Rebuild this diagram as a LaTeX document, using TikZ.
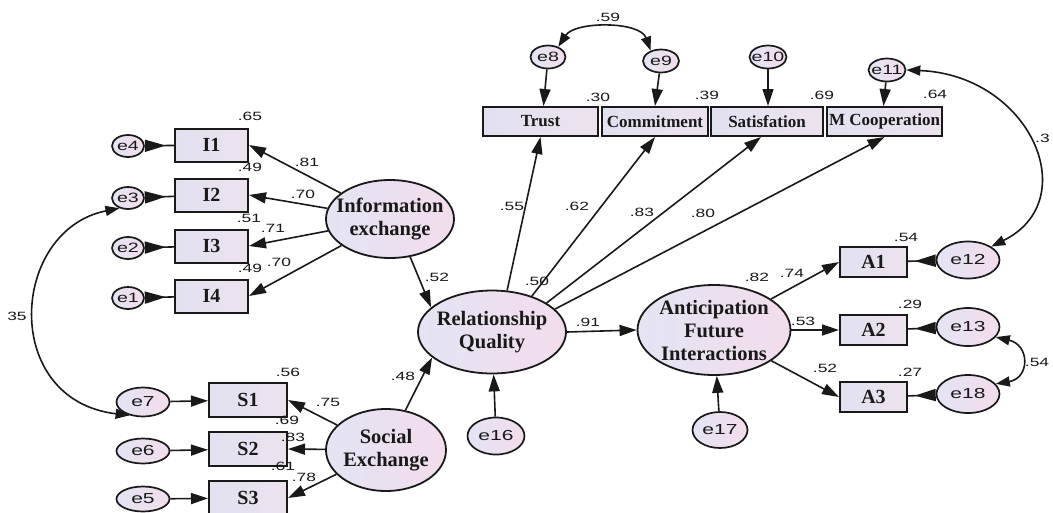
\documentclass[tikz,border=0pt]{standalone}
\usepackage{fontspec}
\setmainfont{Liberation Serif}
\newfontfamily\numfam{Liberation Sans}[FakeStretch=1.45]
\usetikzlibrary{arrows.meta,shapes.geometric,calc}
\definecolor{boxL}{RGB}{226,225,240}
\definecolor{boxR}{RGB}{236,226,238}
\definecolor{ellL}{RGB}{228,228,243}
\definecolor{ellR}{RGB}{242,220,236}
\definecolor{ink}{RGB}{25,25,25}
\begin{document}
\begin{tikzpicture}[x=1pt,y=-1pt,
 box/.style={rectangle, draw=ink, line width=2pt, left color=boxL, right color=boxR, inner sep=0pt, font=\bfseries\fontsize{20}{22}\selectfont, text=ink},
 tbox/.style={box, minimum height=29pt, font=\bfseries\fontsize{17}{18}\selectfont},
 lat/.style={ellipse, draw=ink, line width=1.8pt, left color=ellL, right color=ellR, inner sep=0pt},
 lattext/.style={font=\bfseries\fontsize{20.5}{23}\selectfont, align=center, text=ink, inner sep=0pt},
 err/.style={ellipse, draw=ink, line width=1.7pt, left color=ellL, right color=ellR, inner sep=0pt},
 etext/.style={font=\numfam\fontsize{14.5}{14}\selectfont, text=ink, inner sep=0pt},
 setext/.style={font=\numfam\fontsize{13.5}{13}\selectfont, text=ink, inner sep=0pt},
 nlab/.style={font=\numfam\fontsize{12}{12}\selectfont, text=ink, inner sep=0pt},
 arr/.style={draw=ink, line width=1.6pt, -{Triangle[length=17pt,width=11pt]}},
 earr/.style={draw=ink, line width=1.6pt, {Triangle[reversed,length=21pt,width=12pt]}-},
 cov/.style={draw=ink, line width=1.6pt, {Triangle[length=14pt,width=10pt]}-{Triangle[length=14pt,width=10pt]}},
]
\useasboundingbox (0,0) rectangle (1053,512);
\clip (0,0) rectangle (1053,512);
\fill[white] (0,0) rectangle (1053,512);

% latent variables
\node[lat, minimum width=128pt, minimum height=78pt, label={[lattext]center:Information\\exchange}] (IE) at (390,219) {};
\node[lat, minimum width=120pt, minimum height=82pt, label={[lattext]center:Social\\Exchange}] (SE) at (386,450) {};
\node[lat, minimum width=148pt, minimum height=83pt, label={[lattext]center:Relationship\\Quality}] (RQ) at (492,332) {};
\node[lat, minimum width=153pt, minimum height=90pt, label={[lattext]center:Anticipation\\Future\\Interactions}] (AFI) at (714,330) {};

% indicators
\node[box, minimum width=73pt, minimum height=33pt] (I1) at (211.5,145) {I1};
\node[box, minimum width=73pt, minimum height=33pt] (I2) at (211.5,195) {I2};
\node[box, minimum width=73pt, minimum height=33pt] (I3) at (211.5,246) {I3};
\node[box, minimum width=73pt, minimum height=33pt] (I4) at (211.5,296) {I4};
\node[box, minimum width=78pt, minimum height=34pt] (S1) at (248,400) {S1};
\node[box, minimum width=78pt, minimum height=34pt] (S2) at (248,449) {S2};
\node[box, minimum width=78pt, minimum height=34pt] (S3) at (248,498) {S3};
\node[box, minimum width=67pt, minimum height=30pt] (A1) at (873.5,262) {A1};
\node[box, minimum width=67pt, minimum height=30pt] (A2) at (873.5,330) {A2};
\node[box, minimum width=67pt, minimum height=30pt] (A3) at (873.5,397) {A3};
\node[tbox, minimum width=115pt] (Tr) at (540.5,121.5) {Trust};
\node[tbox, minimum width=106pt] (Co) at (655,121.5) {Commitment};
\node[tbox, minimum width=112pt] (Sa) at (767,121.5) {Satisfation};
\node[tbox, minimum width=115pt] (MC) at (884.5,121.5) {M Cooperation};

% errors
\node[err, minimum width=32pt, minimum height=22pt, label={[setext]center:e4}] (e4) at (128,146) {};
\node[err, minimum width=32pt, minimum height=22pt, label={[setext]center:e3}] (e3) at (128,198) {};
\node[err, minimum width=32pt, minimum height=22pt, label={[setext]center:e2}] (e2) at (128,248) {};
\node[err, minimum width=32pt, minimum height=22pt, label={[setext]center:e1}] (e1) at (128,298) {};
\node[err, minimum width=53pt, minimum height=29pt, label={[etext]center:e7}] (e7) at (143,402) {};
\node[err, minimum width=53pt, minimum height=25pt, label={[etext]center:e6}] (e6) at (143,451) {};
\node[err, minimum width=53pt, minimum height=25pt, label={[etext]center:e5}] (e5) at (143,499) {};
\node[err, minimum width=35pt, minimum height=23pt, label={[setext]center:e8}] (e8) at (548,57) {};
\node[err, minimum width=36pt, minimum height=23pt, label={[setext]center:e9}] (e9) at (661,61) {};
\node[err, minimum width=37pt, minimum height=23pt, label={[setext]center:e10}] (e10) at (768,57) {};
\node[err, minimum width=37pt, minimum height=23pt, label={[setext]center:e11}] (e11) at (887,70) {};
\node[err, minimum width=63pt, minimum height=37pt, label={[etext]center:e12}] (e12) at (968,260) {};
\node[err, minimum width=63pt, minimum height=38pt, label={[etext]center:e13}] (e13) at (968,327) {};
\node[err, minimum width=63pt, minimum height=38pt, label={[etext]center:e18}] (e18) at (968,394) {};
\node[err, minimum width=57pt, minimum height=37pt, label={[etext]center:e16}] (e16) at (496,436) {};
\node[err, minimum width=55pt, minimum height=36pt, label={[etext]center:e17}] (e17) at (720,430) {};

% structural paths
\draw[arr] (IE) -- (I1.east);
\draw[arr] (IE) -- (I2.east);
\draw[arr] (IE) -- (I3.east);
\draw[arr] (IE) -- (I4.east);
\draw[arr] (SE) -- (S1.east);
\draw[arr] (SE) -- (S2.east);
\draw[arr] (SE) -- (S3.east);
\draw[arr] (IE.-62) -- (RQ.158);
\draw[arr] (SE.64) -- (RQ.203);
\draw[arr] (RQ.70) -- (Tr.south);
\draw[arr] (RQ.42) -- (Co.south);
\draw[arr] (RQ.28) -- ($(Sa.south)+(-6,0)$);
\draw[arr] (RQ.20) -- (MC.south);
\draw[arr] (RQ.east) -- (AFI.west);
\draw[arr] (AFI) -- (A1.west);
\draw[arr] (AFI) -- (A2.west);
\draw[arr] (AFI) -- (A3.west);
\draw[arr] (e16) -- (RQ);
\draw[arr] (e17) -- (AFI);

% error paths
\draw[earr] (e4) -- (I1);
\draw[earr] (e3) -- (I2);
\draw[earr] (e2) -- (I3);
\draw[earr] (e1) -- (I4);
\draw[earr] (e12) -- (A1);
\draw[earr] (e13) -- (A2);
\draw[earr] (e18) -- (A3);
\draw[arr] (e7) -- (S1);
\draw[arr] (e6) -- (S2);
\draw[arr] (e5) -- (S3);
\draw[arr] (e8) -- ($(Tr.north)+(3,0)$);
\draw[arr] (e9) -- (Co.north);
\draw[arr] (e10) -- (e10 |- Sa.north);
\draw[arr] (e11) -- ($(MC.north)+(-1,0)$);

% covariances
\draw[cov] (e8.45) .. controls (575,21) and (640,21) .. (e9.135);
\draw[cov] (e11.east) .. controls (1030,75) and (1085,200) .. (e12.30);
\draw[cov] (e3.230) .. controls (10,230) and (0,400) .. (e7.225);
\draw[cov] (e13.-20) .. controls (1030,345) and (1030,378) .. (e18.20);

% labels
\node[nlab] (n1) at (250,116) {.65};
\node[nlab] (n2) at (250,167) {.49};
\node[nlab] (n3) at (307,162) {.81};
\node[nlab] (n4) at (303,194) {.70};
\node[nlab] (n5) at (249,218) {.51};
\node[nlab] (n6) at (273,228) {.71};
\node[nlab] (n7) at (250,268) {.49};
\node[nlab] (n8) at (279,262) {.70};
\node[nlab] (n9) at (17,316) {35};
\node[nlab] (n10) at (288,372) {.56};
\node[nlab] (n11) at (328,402) {.75};
\node[nlab] (n12) at (287,420) {.69};
\node[nlab] (n13) at (293,437) {.83};
\node[nlab] (n14) at (283,466) {.61};
\node[nlab] (n15) at (304,477) {.78};
\node[nlab] (n16) at (403,376) {.48};
\node[nlab] (n17) at (437,277) {.52};
\node[nlab] (n18) at (512,206) {.55};
\node[nlab] (n19) at (577,206) {.62};
\node[nlab] (n20) at (642,212) {.83};
\node[nlab] (n21) at (703,213) {.80};
\node[nlab] (n22) at (537,281) {.50};
\node[nlab] (n23) at (588,322) {.91};
\node[nlab] (n24) at (757,277) {.82};
\node[nlab] (n25) at (792,273) {.74};
\node[nlab] (n26) at (803,321) {.53};
\node[nlab] (n27) at (825,368) {.52};
\node[nlab] (n28) at (906,237) {.54};
\node[nlab] (n29) at (910,304) {.29};
\node[nlab] (n30) at (910,372) {.27};
\node[nlab] (n31) at (1037,362) {.54};
\node[nlab, anchor=west] (n32) at (1035,138) {.3};
\node[nlab] (n33) at (608,17) {.59};
\node[nlab] (n34) at (598,97) {.30};
\node[nlab] (n35) at (707,95) {.39};
\node[nlab] (n36) at (822,95) {.69};
\node[nlab] (n37) at (935,94) {.64};
\end{tikzpicture}
\end{document}
